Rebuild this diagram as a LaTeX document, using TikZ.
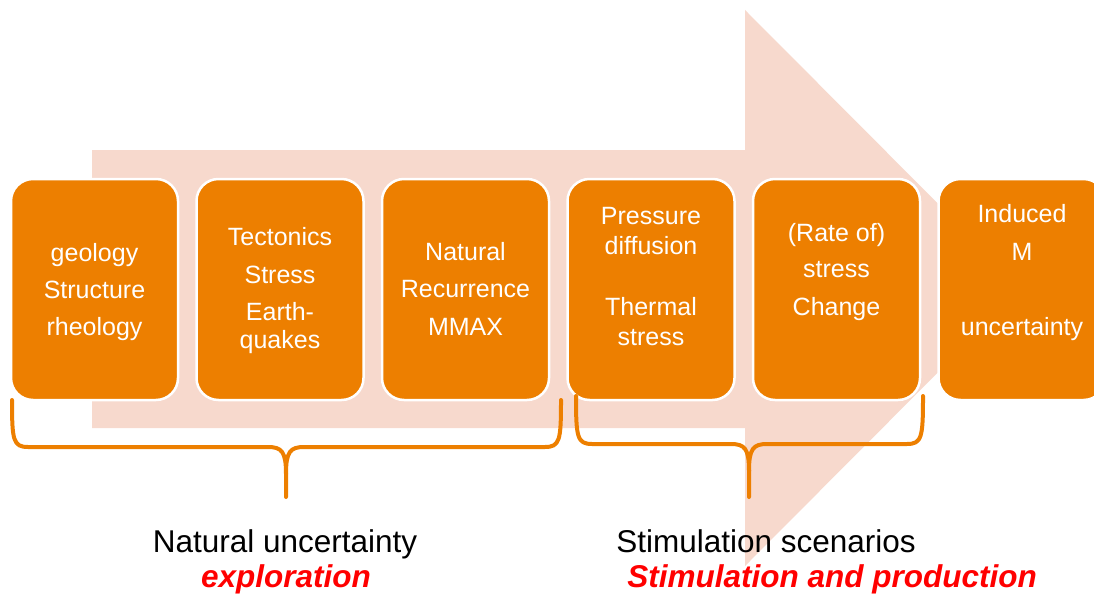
\documentclass[tikz,border=0pt]{standalone}
\usepackage{fontspec}
\setmainfont{Liberation Sans}
\definecolor{boxorange}{RGB}{237,127,0}
\definecolor{arrowpink}{RGB}{247,217,205}
\definecolor{labelred}{RGB}{255,0,0}
\begin{document}
\begin{tikzpicture}[x=1pt,y=-1pt,
  stage/.style={draw=white, line width=2.5pt, fill=boxorange, rounded corners=22pt,
    minimum width=167pt, minimum height=221pt, inner sep=0pt},
  boxtext/.style={text=white, font=\fontsize{25}{30}\selectfont, anchor=base, inner sep=0pt},
  brace/.style={draw=boxorange, line width=4pt, line cap=round, line join=round},
  caption/.style={font=\fontsize{31.5}{36}\selectfont, anchor=base, inner sep=0pt},
  emph/.style={caption, text=labelred, font=\fontsize{31.5}{36}\selectfont\bfseries\itshape}]
\useasboundingbox (0,0) rectangle (1094,594);
\clip (0,0) rectangle (1094,594);

% large background arrow
\fill[arrowpink] (92,150) -- (745,150) -- (745,10) -- (1022,288)
  -- (745,566) -- (745,428) -- (92,428) -- cycle;

% stage boxes
\node[stage] (b1) at (94.5,289.5) {};
\node[stage] (b2) at (280,289.5) {};
\node[stage] (b3) at (465.5,289.5) {};
\node[stage] (b4) at (651,289.5) {};
\node[stage] (b5) at (836.5,289.5) {};
\node[stage] (b6) at (1022,289.5) {};

% box texts, one line per node
\node[boxtext] (b1l1) at (b1.center |- 0,261) {geology};
\node[boxtext] (b1l2) at (b1.center |- 0,298) {Structure};
\node[boxtext] (b1l3) at (b1.center |- 0,335) {rheology};

\node[boxtext] (b2l1) at (b2.center |- 0,245) {Tectonics};
\node[boxtext] (b2l2) at (b2.center |- 0,283) {Stress};
\node[boxtext] (b2l3) at (b2.center |- 0,320) {Earth-};
\node[boxtext] (b2l4) at (b2.center |- 0,348) {quakes};

\node[boxtext] (b3l1) at (b3.center |- 0,260) {Natural};
\node[boxtext] (b3l2) at (b3.center |- 0,297) {Recurrence};
\node[boxtext] (b3l3) at (b3.center |- 0,335) {MMAX};

\node[boxtext] (b4l1) at (b4.center |- 0,224) {Pressure};
\node[boxtext] (b4l2) at (b4.center |- 0,254) {diffusion};
\node[boxtext] (b4l3) at (b4.center |- 0,315) {Thermal};
\node[boxtext] (b4l4) at (b4.center |- 0,345) {stress};

\node[boxtext] (b5l1) at (b5.center |- 0,241) {(Rate of)};
\node[boxtext] (b5l2) at (b5.center |- 0,277) {stress};
\node[boxtext] (b5l3) at (b5.center |- 0,315) {Change};

\node[boxtext] (b6l1) at (b6.center |- 0,222) {Induced};
\node[boxtext] (b6l2) at (b6.center |- 0,260) {M};
\node[boxtext] (b6l3) at (b6.center |- 0,335) {uncertainty};

% braces under the stage groups
\draw[brace] (12,400) .. controls (12,440) and (13,447) .. (28,447) -- (268,447)
  .. controls (282,447) and (286,452) .. (286,474) -- (286,497);
\draw[brace] (286,474) .. controls (286,452) and (290,447) .. (304,447) -- (545,447)
  .. controls (560,447) and (561,440) .. (561,400);

\draw[brace] (576,396) .. controls (576,437) and (577,444) .. (592,444) -- (731,444)
  .. controls (745,444) and (749,449) .. (749,471) -- (749,497);
\draw[brace] (749,471) .. controls (749,449) and (753,444) .. (767,444) -- (907,444)
  .. controls (922,444) and (923,437) .. (923,396);

% group captions
\node[caption] (c1) at (285,552) {Natural uncertainty};
\node[emph] (c2) at (286,587) {exploration};
\node[caption] (c3) at (766,552) {Stimulation scenarios};
\node[emph] (c4) at (832,587) {Stimulation and production};
\end{tikzpicture}
\end{document}
